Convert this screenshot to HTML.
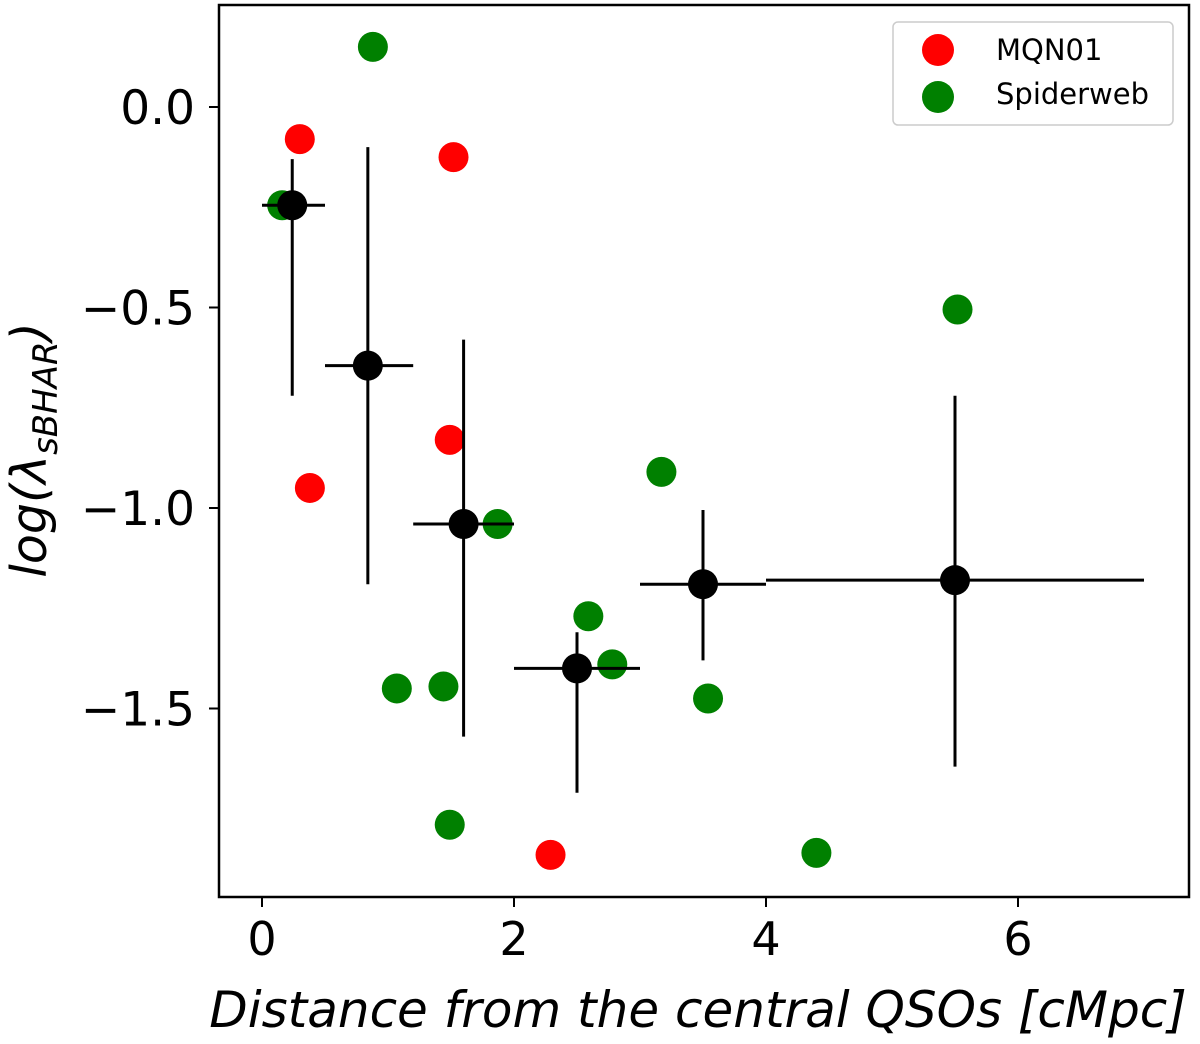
<!DOCTYPE html>
<html><head><meta charset="utf-8"><style>
body{margin:0;background:#fff}
svg text{font-family:"DejaVu Sans","Liberation Sans",sans-serif}
</style></head><body>
<svg id="chart" width="1200" height="1039" xmlns="http://www.w3.org/2000/svg"></svg>
<script>
const redX=[0.30,1.52,1.49,0.38,2.29];
const redY=[-0.08,-0.125,-0.83,-0.95,-1.865];
const greenX=[0.88,0.16,5.52,3.17,1.87,2.59,2.78,1.07,1.44,3.54,1.49,4.40];
const greenY=[0.15,-0.245,-0.505,-0.91,-1.04,-1.27,-1.39,-1.45,-1.445,-1.475,-1.79,-1.86];
const binX=[0.24,0.84,1.6,2.5,3.5,5.5];
const binY=[-0.245,-0.645,-1.04,-1.40,-1.19,-1.18];
const binXlo=[0,0.5,1.2,2,3,4];
const binXhi=[0.5,1.2,2,3,4,7];
const binYhi=[-0.13,-0.10,-0.58,-1.31,-1.005,-0.72];
const binYlo=[-0.72,-1.19,-1.57,-1.71,-1.38,-1.645];
const xTicks=[0,2,4,6];
const yTicks=[0,-0.5,-1,-1.5];
const yTickLabels=["0.0","\u22120.5","\u22121.0","\u22121.5"];

const L=219,R=1189,T=5,B=897;
const sx=v=>262+v*126;
const sy=v=>107-v*401;
const svg=document.getElementById('chart');
const NS="http://www.w3.org/2000/svg";
function mk(tag,attrs,parent){const e=document.createElementNS(NS,tag);for(const k in attrs)e.setAttribute(k,attrs[k]);(parent||svg).appendChild(e);return e;}

function dots(xs,ys,color,name){
  const g=mk('g',{});
  
  
  xs.forEach((x,i)=>{
    const c=mk('circle',{cx:sx(x),cy:sy(ys[i]),r:15,fill:color},g);
    
    
  });
}
dots(redX,redY,'#ff0000','mqn01');
dots(greenX,greenY,'#008000','spiderweb');

const gb=mk('g',{});


binX.forEach((x,i)=>{
  const h=mk('line',{x1:sx(binXlo[i]),x2:sx(binXhi[i]),y1:sy(binY[i]),y2:sy(binY[i]),stroke:'#000','stroke-width':3},gb);
  
  
  const v=mk('line',{x1:sx(x),x2:sx(x),y1:sy(binYhi[i]),y2:sy(binYlo[i]),stroke:'#000','stroke-width':3},gb);
  
  
  const c=mk('circle',{cx:sx(x),cy:sy(binY[i]),r:15,fill:'#000'},gb);
  
  
});

const frame=mk('rect',{x:L,y:T,width:R-L,height:B-T,fill:'none',stroke:'#000','stroke-width':2.5});



xTicks.forEach(t=>{
  const l=mk('line',{x1:sx(t),x2:sx(t),y1:B,y2:B+10,stroke:'#000','stroke-width':2});
  
  
  const tx=mk('text',{x:sx(t),y:B+58,'font-size':46,'text-anchor':'middle'});
  tx.textContent=t;
  
  
});
yTicks.forEach((t,i)=>{
  const l=mk('line',{x1:L-10,x2:L,y1:sy(t),y2:sy(t),stroke:'#000','stroke-width':2});
  
  
  const tx=mk('text',{x:L-24,y:sy(t)+17,'font-size':47,'text-anchor':'end'});
  tx.textContent=yTickLabels[i];
  
  
});

const xt=mk('text',{x:698,y:1027,'font-size':50,'text-anchor':'middle','font-style':'italic'});
xt.textContent='Distance from the central QSOs [cMpc]';



const yt=mk('text',{transform:'translate(46,450) rotate(-90)','font-size':49,'text-anchor':'middle','font-style':'italic'});
yt.innerHTML='log(λ<tspan font-size="34" dy="11">sBHAR</tspan><tspan dy="-11">)</tspan>';



const lg=mk('g',{});


mk('rect',{x:893,y:22,width:280,height:103,rx:5,fill:'#fff',stroke:'#ccc','stroke-width':1.5},lg);
const lr=mk('circle',{cx:938,cy:50,r:16,fill:'#ff0000'},lg);


const lgr=mk('circle',{cx:938,cy:97,r:16,fill:'#008000'},lg);


const t1=mk('text',{x:996,y:60,'font-size':29},lg);
t1.textContent='MQN01';


const t2=mk('text',{x:996,y:104,'font-size':29},lg);
t2.textContent='Spiderweb';


</script>
</body></html>
